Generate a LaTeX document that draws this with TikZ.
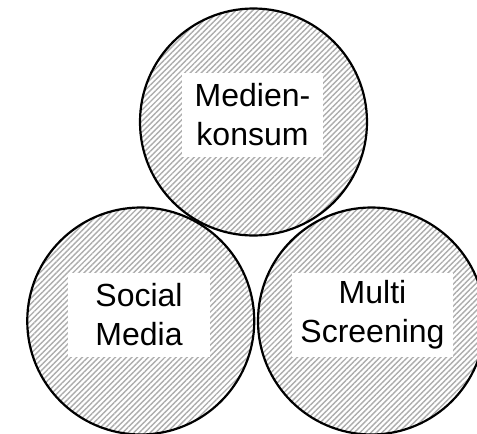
\documentclass[tikz,border=0pt]{standalone}
\usepackage{fontspec}
\setmainfont{Liberation Sans}
\usetikzlibrary{patterns.meta}
\tikzset{
  ring/.style={circle, draw=black, line width=2.2pt, minimum size=227pt, inner sep=0pt,
    pattern={Lines[angle=45,distance=3.9pt,line width=1.4pt]}, pattern color=black!32},
  labelbox/.style={fill=white, inner sep=0pt, minimum height=84pt, align=center,
    font=\fontsize{32pt}{39pt}\selectfont}
}
\begin{document}
\begin{tikzpicture}[x=1pt,y=-1pt]
\useasboundingbox (0,0) rectangle (477,434);
\fill[white] (0,0) rectangle (477,434);
\clip (0,0) rectangle (477,434);
\node[ring] (top) at (253.5,122) {};
\node[ring] (left) at (140.75,321) {};
\node[ring] (right) at (371.5,321) {};
\node[labelbox, minimum width=141pt] (ltop) at (252.5,115) {Medien-\\konsum};
\node[labelbox, minimum width=142pt] (lleft) at (139,315) {Social\\Media};
\node[labelbox, minimum width=161pt] (lright) at (372.5,315) {Multi\\Screening};
\end{tikzpicture}
\end{document}
